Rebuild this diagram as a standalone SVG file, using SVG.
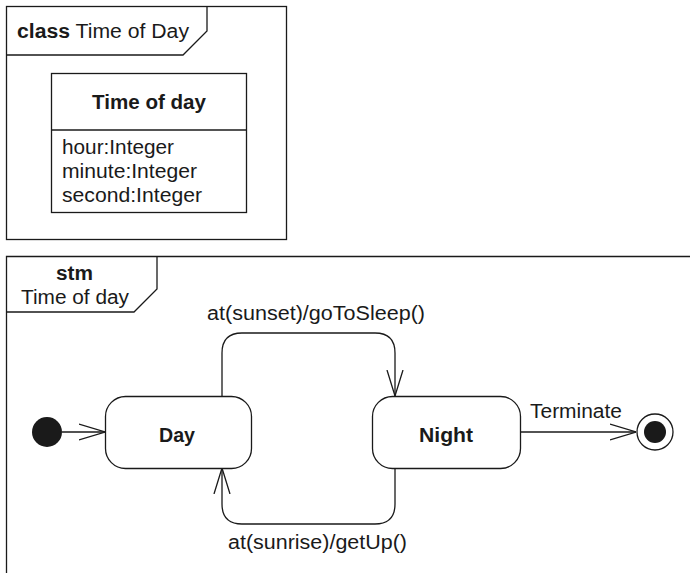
<svg xmlns="http://www.w3.org/2000/svg" width="690" height="573" viewBox="0 0 690 573">
<style>
text{font-family:"Liberation Sans",Arial,sans-serif;font-size:20px;fill:#1a1a1a}
.b{font-weight:bold}
.ln{fill:none;stroke:#1a1a1a;stroke-width:1.3}
.box{fill:#fff;stroke:#1a1a1a;stroke-width:1.3}
</style>
<defs>
<marker id="open" viewBox="0 0 26 18" refX="26" refY="9" markerWidth="26" markerHeight="18" markerUnits="userSpaceOnUse" orient="auto">
<path d="M0,1 L26,9 L0,17" fill="none" stroke="#1a1a1a" stroke-width="1.3"/>
</marker>
</defs>
<rect width="690" height="573" fill="#fff"/>
<g id="classFrame">
<rect class="ln" x="6.5" y="6.5" width="280" height="233"/>
<path class="ln" d="M6.5,55 H183 L207,31 V6.5"/>
<text x="17" y="38" textLength="172" lengthAdjust="spacingAndGlyphs"><tspan class="b">class</tspan> Time of Day</text>
</g>
<g id="classTimeOfDay">
<rect class="box" x="51.5" y="73.5" width="195" height="139"/>
<line class="ln" x1="51.5" y1="130" x2="246.5" y2="130"/>
<text class="b" x="92" y="109" textLength="114" lengthAdjust="spacingAndGlyphs">Time of day</text>
<text x="62" y="154" textLength="112" lengthAdjust="spacingAndGlyphs">hour:Integer</text>
<text x="62" y="178" textLength="135" lengthAdjust="spacingAndGlyphs">minute:Integer</text>
<text x="62" y="202" textLength="140" lengthAdjust="spacingAndGlyphs">second:Integer</text>
</g>
<g id="stmFrame">
<path class="ln" d="M6.5,573 V256.5 H690"/>
<path class="ln" d="M6.5,312 H134 L157,289 V256.5"/>
<text class="b" x="56" y="280" textLength="37" lengthAdjust="spacingAndGlyphs">stm</text>
<text x="21" y="304" textLength="108" lengthAdjust="spacingAndGlyphs">Time of day</text>
</g>
<g id="connectors">
<line class="ln" x1="62" y1="432" x2="105" y2="432" marker-end="url(#open)"/>
<path class="ln" d="M222,396 V353 Q222,333 242,333 H375 Q395,333 395,353 V396" marker-end="url(#open)"/>
<path class="ln" d="M395,468 V504 Q395,524 375,524 H242 Q222,524 222,504 V468" marker-end="url(#open)"/>
<line class="ln" x1="520" y1="432" x2="636" y2="432" marker-end="url(#open)"/>
<text x="207" y="320" textLength="218" lengthAdjust="spacingAndGlyphs">at(sunset)/goToSleep()</text>
<text x="228" y="549" textLength="179" lengthAdjust="spacingAndGlyphs">at(sunrise)/getUp()</text>
<text x="530" y="418" textLength="92" lengthAdjust="spacingAndGlyphs">Terminate</text>
</g>
<g id="initial">
<circle cx="47" cy="432" r="15" fill="#1a1a1a"/>
</g>
<g id="stateDay">
<rect class="box" x="105.5" y="396.5" width="146" height="72" rx="20"/>
<text class="b" x="159" y="442" textLength="36" lengthAdjust="spacingAndGlyphs">Day</text>
</g>
<g id="stateNight">
<rect class="box" x="372.5" y="396.5" width="148" height="72" rx="20"/>
<text class="b" x="419" y="442" textLength="54" lengthAdjust="spacingAndGlyphs">Night</text>
</g>
<g id="final">
<circle class="box" cx="655" cy="432" r="18"/>
<circle cx="655" cy="432" r="11" fill="#1a1a1a"/>
</g>
</svg>
